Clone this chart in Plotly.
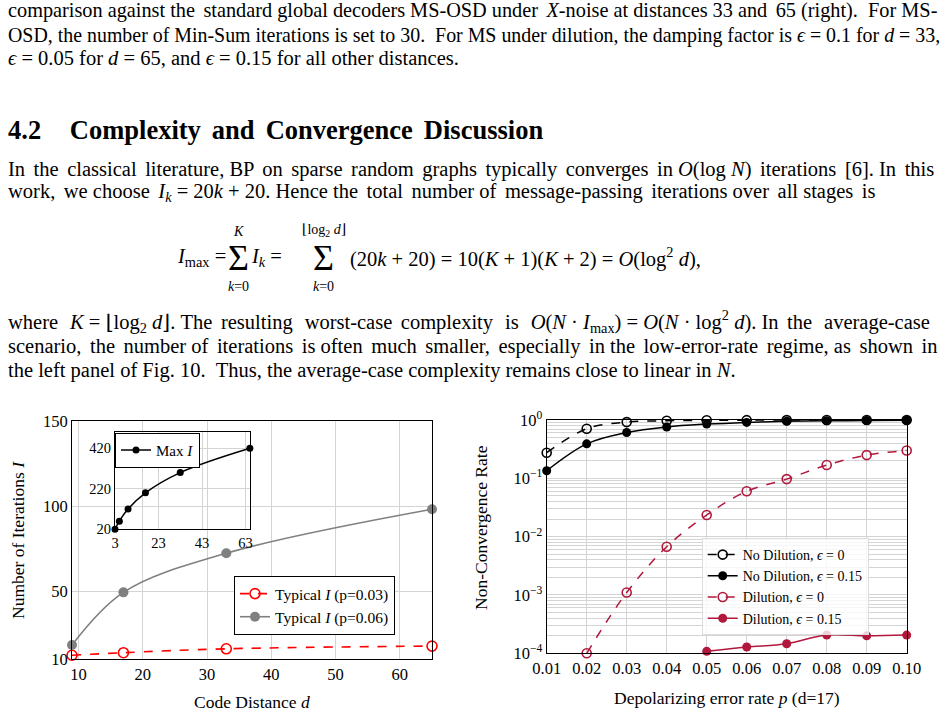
import plotly.graph_objects as go

W, H = 947, 714
def px(x): return x / W
def py(y): return 1 - y / H

SERIF = "Liberation Serif, DejaVu Serif, serif"

# ---------------- data ----------------
d_vals = [9, 17, 33, 65]
typical_p003 = [12.2, 13.7, 16.0, 17.6]
typical_p006 = [18.2, 49.2, 72.2, 98.1]

inset_d = [3, 5, 9, 17, 33, 65]
inset_max_I = [20, 60, 120, 200, 300, 420]

p_vals = [0.01, 0.02, 0.03, 0.04, 0.05, 0.06, 0.07, 0.08, 0.09, 0.10]
nodil_eps0 = [0.275, 0.71, 0.92, 0.97, 0.99, 0.995, 0.997, 0.998, 0.999, 1.0]
nodil_eps015 = [0.135, 0.39, 0.61, 0.76, 0.85, 0.91, 0.95, 0.97, 0.98, 0.99]
dil_eps0 = [None, 1.0e-4, 1.1e-3, 6.7e-3, 0.0235, 0.060, 0.097, 0.169, 0.25, 0.30]
dil_eps015 = [None, None, None, None, 1.08e-4, 1.28e-4, 1.46e-4, 2.06e-4, 1.99e-4, 2.05e-4]

left_xticks = [10, 20, 30, 40, 50, 60]
left_yticks = [10, 50, 100, 150]
inset_xticks = [3, 23, 43, 63]
inset_yticks = [20, 220, 420]
right_yticks = [1e-4, 1e-3, 1e-2, 1e-1, 1]
right_yticktext = ["10<sup>−4</sup>", "10<sup>−3</sup>", "10<sup>−2</sup>", "10<sup>−1</sup>", "10<sup>0</sup>"]

CRIMSON = "#B2183C"
GRID = "#d4d4d4"

fig = go.Figure()

# left panel
fig.add_trace(go.Scatter(x=d_vals, y=typical_p003, mode="lines+markers",
    name="Typical <i>I</i> (p=0.03)", line=dict(color="red", dash="dash", width=1.6, shape="spline"),
    marker=dict(symbol="circle-open", size=10, color="red", line=dict(width=1.6)),
    xaxis="x", yaxis="y", legend="legend", cliponaxis=False))
fig.add_trace(go.Scatter(x=d_vals, y=typical_p006, mode="lines+markers",
    name="Typical <i>I</i> (p=0.06)", line=dict(color="#808080", width=1.6, shape="spline"),
    marker=dict(symbol="circle", size=10, color="#808080"),
    xaxis="x", yaxis="y", legend="legend", cliponaxis=False))

# inset
fig.add_trace(go.Scatter(x=inset_d, y=inset_max_I, mode="lines+markers",
    name="Max <i>I</i>", line=dict(color="black", width=1.5, shape="spline"),
    marker=dict(symbol="circle", size=7, color="black"),
    xaxis="x3", yaxis="y3", legend="legend2", cliponaxis=False))

# right panel
fig.add_trace(go.Scatter(x=p_vals, y=nodil_eps0, mode="lines+markers",
    name="No Dilution, <i>ϵ</i> = 0", line=dict(color="black", dash="dash", width=1.5, shape="spline"),
    marker=dict(symbol="circle-open", size=9, color="black", line=dict(width=1.6)),
    xaxis="x2", yaxis="y2", legend="legend3", cliponaxis=False))
fig.add_trace(go.Scatter(x=p_vals, y=nodil_eps015, mode="lines+markers",
    name="No Dilution, <i>ϵ</i> = 0.15", line=dict(color="black", width=1.5, shape="spline"),
    marker=dict(symbol="circle", size=9, color="black"),
    xaxis="x2", yaxis="y2", legend="legend3", cliponaxis=False))
fig.add_trace(go.Scatter(x=p_vals, y=dil_eps0, mode="lines+markers",
    name="Dilution, <i>ϵ</i> = 0", line=dict(color=CRIMSON, dash="dash", width=1.5, shape="spline"),
    marker=dict(symbol="circle-open", size=9, color=CRIMSON, line=dict(width=1.6)),
    xaxis="x2", yaxis="y2", legend="legend3", cliponaxis=False))
fig.add_trace(go.Scatter(x=p_vals, y=dil_eps015, mode="lines+markers",
    name="Dilution, <i>ϵ</i> = 0.15", line=dict(color=CRIMSON, width=1.5, shape="spline"),
    marker=dict(symbol="circle", size=9, color=CRIMSON),
    xaxis="x2", yaxis="y2", legend="legend3", cliponaxis=False))

axcommon = dict(showline=True, mirror=True, linecolor="black", linewidth=1, automargin=False,
                zeroline=False, showgrid=True, gridcolor=GRID, gridwidth=1, ticks="",
                tickfont=dict(family=SERIF, size=16.5, color="black"))
insetfont = dict(family=SERIF, size=14.5, color="black")

fig.update_layout(
    width=W, height=H, margin=dict(l=0, r=0, t=0, b=0, autoexpand=False),
    paper_bgcolor="white", plot_bgcolor="rgba(0,0,0,0)",
    font=dict(family=SERIF, color="black"),
    xaxis=dict(domain=[px(72), px(432)], range=[9, 65], tickvals=left_xticks, anchor="y", **axcommon),
    yaxis=dict(domain=[py(659), py(421)], range=[10, 150], tickvals=left_yticks, anchor="x", **axcommon),
    xaxis3=dict(domain=[px(115), px(250)], range=[3, 65.07], tickvals=inset_xticks, anchor="y3",
                **{**axcommon, "tickfont": insetfont}),
    yaxis3=dict(domain=[py(529.3), py(432.3)], range=[20, 499], tickvals=inset_yticks, anchor="x3",
                **{**axcommon, "tickfont": insetfont}),
    xaxis2=dict(domain=[px(546.7), px(906.7)], range=[0.01, 0.10], tickvals=p_vals, tickformat=".2f",
                anchor="y2", **axcommon),
    yaxis2=dict(domain=[py(653.3), py(420)], type="log", range=[-4, 0], tickvals=right_yticks,
                ticktext=right_yticktext, anchor="x2",
                minor=dict(showgrid=True, gridcolor=GRID, gridwidth=1, dtick="D1"), **axcommon),
    legend=dict(x=px(234), y=py(576), xanchor="left", yanchor="top", bgcolor="white",
                bordercolor="black", borderwidth=1, font=dict(family=SERIF, size=15.5), tracegroupgap=0,
                itemwidth=30),
    legend2=dict(x=px(115), y=py(432.7), xanchor="left", yanchor="top", bgcolor="white",
                 bordercolor="black", borderwidth=1, font=dict(family=SERIF, size=15), itemwidth=30),
    legend3=dict(x=px(701.7), y=py(538), xanchor="left", yanchor="top", bgcolor="rgba(255,255,255,0.8)",
                 bordercolor="#dddddd", borderwidth=1, font=dict(family=SERIF, size=14), tracegroupgap=0,
                 itemwidth=30),
)

ann = []
def text(x, y, s, size, xanchor="left", angle=0):
    ann.append(dict(x=px(x), y=py(y), xref="paper", yref="paper", text=s, showarrow=False,
                    xanchor=xanchor, yanchor="middle", textangle=angle, borderpad=0, borderwidth=0,
                    font=dict(family=SERIF, size=size, color="black")))

NB = "\u00a0"
SP6 = "\u2006"  # six-per-em space, used to widen interword gaps (justification)

def justify(s, units):
    parts = s.split(" ")
    n = len(parts) - 1
    if n <= 0 or units <= 0:
        return s
    out = parts[0]
    for i in range(1, len(parts)):
        add = round(units * i / n) - round(units * (i - 1) / n)
        out += " " + SP6 * max(add, 0) + parts[i]
    return out

BODY = 20.5
text(8, 11, justify("comparison against the standard global decoders MS-OSD under <i>X</i>-noise at distances 33 and 65 (right)." + NB + NB + "For MS-", 3), 20.3)
text(8, 35, "OSD, the number of Min-Sum iterations is set to 30." + NB + NB + "For MS under dilution, the damping factor is <i>ϵ</i> = 0.1 for <i>d</i> = 33,", 19.9)
text(8, 58, "<i>ϵ</i> = 0.05 for <i>d</i> = 65, and <i>ϵ</i> = 0.15 for all other distances.", BODY)
text(8, 130, "<b>4.2" + NB * 3 + SP6 * 2 + "Complexity" + NB + SP6 + "and" + NB + SP6 + "Convergence" + NB + SP6 + "Discussion</b>", 26.5)
text(8, 169, justify("In the classical literature, BP on sparse random graphs typically converges in <i>O</i>(log" + NB + "<i>N</i>) iterations [6]." + NB + "In this", 13), BODY)
text(8, 193, justify("work, we choose <i>I<sub>k</sub></i>" + NB + "=" + NB + "20<i>k</i>" + NB + "+" + NB + "20." + NB + "Hence the total number of message-passing iterations over all stages is", 8), BODY)
# equation
text(177, 257, "<i>I</i><sub>max</sub> =", BODY)
text(238, 258, "Σ", 36, xanchor="center")
text(238, 232, "<i>K</i>", 14, xanchor="center")
text(238, 286, "<i>k</i>=0", 14, xanchor="center")
text(251, 257, "<i>I<sub>k</sub></i> =", BODY)
text(323, 258, "Σ", 36, xanchor="center")
text(324, 231, "⌊log<sub>2</sub> <i>d</i>⌋", 14, xanchor="center")
text(323, 286, "<i>k</i>=0", 14, xanchor="center")
text(350, 257, "(20<i>k</i> + 20) = 10(<i>K</i> + 1)(<i>K</i> + 2) = <i>O</i>(log<sup>2</sup> <i>d</i>),", BODY)
text(8, 322, justify("where <i>K</i>" + NB + "=" + NB + "⌊log<sub>2</sub>" + NB + "<i>d</i>⌋." + NB + "The resulting worst-case complexity is <i>O</i>(<i>N</i>" + NB + "·" + NB + "<i>I</i><sub>max</sub>)" + NB + "=" + NB + "<i>O</i>(<i>N</i>" + NB + "·" + NB + "log<sup>2</sup>" + NB + "<i>d</i>)." + NB + "In the average-case", 13), BODY)
text(8, 346, justify("scenario, the number of iterations is often much smaller, especially in the low-error-rate regime, as shown in", 12), BODY)
text(8, 370, "the left panel of Fig. 10." + NB + NB + "Thus, the average-case complexity remains close to linear in <i>N</i>.", BODY)

# axis titles
text(18, 540, "Number of Iterations <i>I</i>", 17.5, xanchor="center", angle=-90)
text(252, 702, "Code Distance <i>d</i>", 17.5, xanchor="center")
text(481, 527, "Non-Convergence Rate", 17.5, xanchor="center", angle=-90)
text(727, 698, "Depolarizing error rate <i>p</i> (d=17)", 17.5, xanchor="center")

fig.update_layout(annotations=ann)
fig.write_html("out.html")
